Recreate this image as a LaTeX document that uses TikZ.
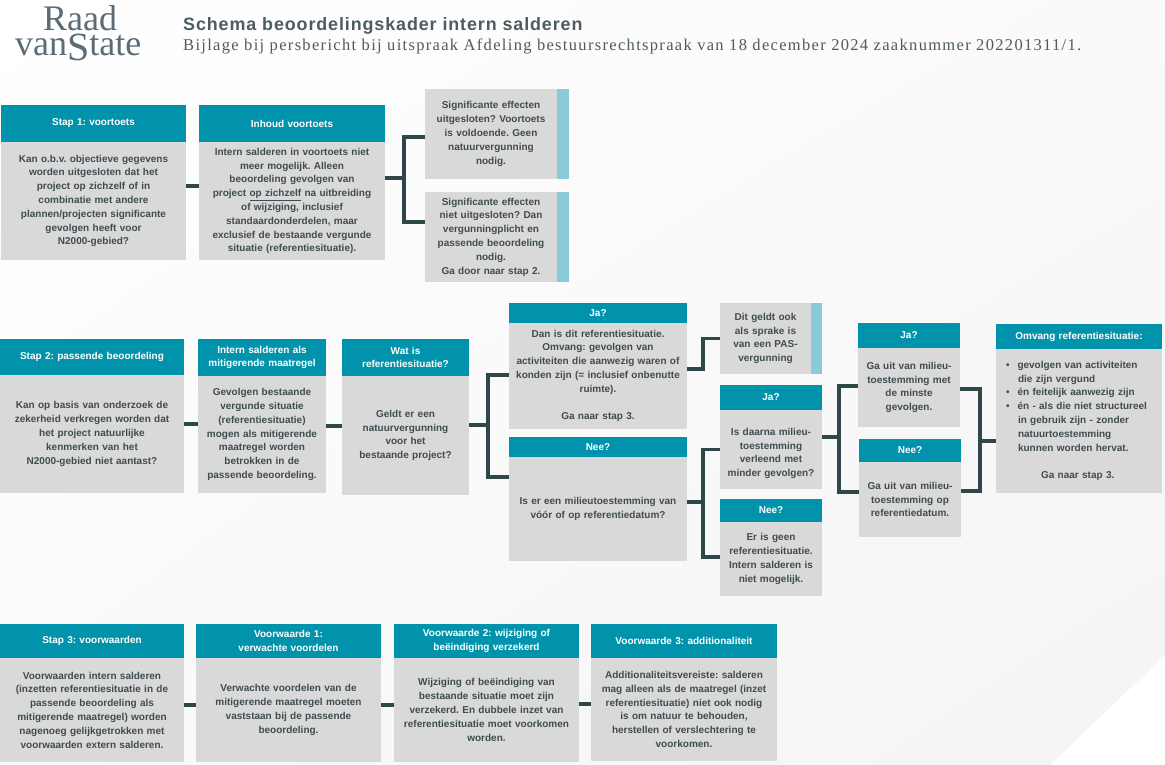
\documentclass[tikz,border=0pt]{standalone}
\usepackage{fontspec}
\setmainfont{Liberation Sans}
\newfontfamily\serifletter[LetterSpace=8]{Liberation Serif}
\newfontfamily\logoletter{Liberation Serif}
\newfontfamily\titelletter[LetterSpace=5]{Liberation Sans}
\usetikzlibrary{positioning, calc, shadings}
\definecolor{petrol}{HTML}{0093AB}
\definecolor{vakgrijs}{HTML}{D9D9D9}
\definecolor{lichtblauw}{HTML}{8ACADA}
\definecolor{lijngroen}{HTML}{2F4748}
\definecolor{tekstgrijs}{HTML}{3F4C50}
\definecolor{logogrijs}{HTML}{5C6C76}
\definecolor{titelgrijs}{HTML}{4D5B62}
\definecolor{hoekgrijs}{HTML}{F4F4F4}
\definecolor{middengrijs}{HTML}{FAFAFA}
\tikzset{
  every picture/.style={x=1pt, y=-1pt},
  maat/.style 2 args={text width=#1, minimum height=#2},
  kop/.style={fill=petrol, text=white, anchor=north west, inner sep=0pt, outer sep=0pt, align=center,
              font=\fontsize{10}{13.8}\selectfont\bfseries},
  vak/.style={fill=vakgrijs, text=tekstgrijs, anchor=north west, inner sep=0pt, outer sep=0pt, align=center,
              font=\fontsize{10}{13.8}\selectfont\bfseries},
  strook/.style={fill=lichtblauw, anchor=north west, inner sep=0pt, outer sep=0pt, minimum width=12pt},
  lijn/.style={draw=lijngroen, line width=3.2pt},
}
\frenchspacing
\begin{document}
\begin{tikzpicture}
  \useasboundingbox (0,0) rectangle (1165,765);
  \shade[upper left=white, upper right=middengrijs, lower left=middengrijs, lower right=hoekgrijs]
    (0,0) -- (1165,0) -- (1165,655) -- (1050,765) -- (0,765) -- cycle;

  \node[anchor=north west, inner sep=0pt, align=left, text=logogrijs, font=\fontsize{36}{25}\logoletter] (logo) at (15,5) {\hspace{28pt}Raad\\van\smash{\fontsize{40}{25}\selectfont\raisebox{-5pt}{S}}tate};
  \node[anchor=base west, inner sep=0pt, text=titelgrijs, font=\fontsize{17.9}{18}\titelletter\bfseries] (titel) at (183,31) {Schema beoordelingskader intern salderen};
  \node[anchor=base west, inner sep=0pt, text=titelgrijs, font=\fontsize{16.5}{18}\serifletter] (ondertitel) at (183,51) {Bijlage bij persbericht bij uitspraak Afdeling bestuursrechtspraak van 18 december 2024 zaaknummer 202201311/1.};

  \node[kop, maat={185pt}{37pt}] (stapeenkop) at (1,105) {Stap 1: voortoets};
  \node[vak, maat={185pt}{118pt}] (stapeen) at (1,142) {Kan o.b.v. objectieve gegevens\\worden uitgesloten dat het\\project op zichzelf of in\\combinatie met andere\\plannen/projecten significante\\gevolgen heeft voor\\N2000-gebied?};
  \node[kop, maat={186pt}{37pt}] (inhoudkop) at (199,105) {Inhoud voortoets};
  \node[vak, maat={186pt}{118pt}] (inhoud) at (199,142) {Intern salderen in voortoets niet\\meer mogelijk. Alleen\\beoordeling gevolgen van\\project \underline{op zichzelf} na uitbreiding\\of wijziging, inclusief\\standaardonderdelen, maar\\exclusief de bestaande vergunde\\situatie (referentiesituatie).};
  \node[vak, maat={132pt}{90pt}] (effectuit) at (425,89) {Significante effecten\\uitgesloten? Voortoets\\is voldoende. Geen\\natuurvergunning\\nodig.};
  \node[strook, minimum height=90pt] (effectuitstrook) at (557,89) {};
  \node[vak, maat={132pt}{90pt}] (effectniet) at (425,192) {Significante effecten\\niet uitgesloten? Dan\\vergunningplicht en\\passende beoordeling\\nodig.\\Ga door naar stap 2.};
  \node[strook, minimum height=90pt] (effectnietstrook) at (557,192) {};
  \coordinate (splitvoortoets) at (404,178);
  \draw[lijn] ([yshift=15pt]stapeen.east) -- ([yshift=15pt]inhoud.west);
  \draw[lijn] ([yshift=23pt]inhoud.east) -- (splitvoortoets);
  \draw[lijn] ([yshift=-3pt]effectuit.west) -| (splitvoortoets) |- ([yshift=15pt]effectniet.west);

  \node[kop, maat={184pt}{36pt}] (steptweekop) at (0,339) {Stap 2: passende beoordeling};
  \node[vak, maat={184pt}{118pt}] (steptwee) at (0,375) {Kan op basis van onderzoek de\\zekerheid verkregen worden dat\\het project natuurlijke\\kenmerken van het\\N2000-gebied niet aantast?};
  \node[kop, maat={128pt}{37pt}] (mitigerendkop) at (198,339) {Intern salderen als\\mitigerende maatregel};
  \node[vak, maat={128pt}{117pt}] (mitigerend) at (198,376) {Gevolgen bestaande\\vergunde situatie\\(referentiesituatie)\\mogen als mitigerende\\maatregel worden\\betrokken in de\\passende beoordeling.};
  \node[kop, maat={127pt}{37pt}] (watiskop) at (342,339) {Wat is\\referentiesituatie?};
  \node[vak, maat={127pt}{119pt}] (watis) at (342,376) {Geldt er een\\natuurvergunning\\voor het\\bestaande project?};
  \node[kop, maat={178pt}{20pt}] (jaeenkop) at (509,303) {Ja?};
  \node[vak, maat={178pt}{106pt}] (jaeen) at (509,323) {Dan is dit referentiesituatie.\\Omvang: gevolgen van\\activiteiten die aanwezig waren of\\konden zijn (= inclusief onbenutte\\ruimte).\\[13.8pt]Ga naar stap 3.\\[3pt]};
  \node[kop, maat={178pt}{20pt}] (neeeenkop) at (509,437) {Nee?};
  \node[vak, maat={178pt}{104pt}] (neeeen) at (509,457) {Is er een milieutoestemming van\\vóór of op referentiedatum?};
  \node[vak, maat={91pt}{71pt}] (pas) at (720,303) {Dit geldt ook\\als sprake is\\van een PAS-\\vergunning};
  \node[strook, minimum width=11pt, minimum height=71pt] (passtrook) at (811,303) {};
  \node[kop, maat={102pt}{25pt}] (jatweekop) at (720,385) {Ja?};
  \node[vak, maat={102pt}{79pt}] (jatwee) at (720,410) {\rule{0pt}{15pt}Is daarna milieu-\\toestemming\\verleend met\\minder gevolgen?};
  \node[kop, maat={102pt}{23pt}] (neetweekop) at (720,499) {Nee?};
  \node[vak, maat={102pt}{74pt}] (neetwee) at (720,522) {Er is geen\\referentiesituatie.\\Intern salderen is\\niet mogelijk.};
  \node[kop, maat={102pt}{25pt}] (jadriekop) at (858,323) {Ja?};
  \node[vak, maat={102pt}{79pt}] (jadrie) at (858,348) {Ga uit van milieu-\\toestemming met\\de minste\\gevolgen.};
  \node[kop, maat={102pt}{23pt}] (needriekop) at (859,439) {Nee?};
  \node[vak, maat={102pt}{75pt}] (needrie) at (859,462) {Ga uit van milieu-\\toestemming op\\referentiedatum.\\[13pt]};
  \node[kop, maat={166pt}{25pt}] (omvangkop) at (996,324) {Omvang referentiesituatie:};
  \node[vak, maat={166pt}{144pt}, align=left] (omvang) at (996,349) {\hspace{10pt}\textbullet\hspace{8pt}gevolgen van activiteiten\\\hspace{22pt}die zijn vergund\\\hspace{10pt}\textbullet\hspace{8pt}én feitelijk aanwezig zijn\\\hspace{10pt}\textbullet\hspace{8pt}én - als die niet structureel\\\hspace{22pt}in gebruik zijn - zonder\\\hspace{22pt}natuurtoestemming\\\hspace{22pt}kunnen worden hervat.\\[13.8pt]\hspace{45pt}Ga naar stap 3.};
  \coordinate (splitreferentie) at (488,425);
  \coordinate (splitpas) at (703,354);
  \coordinate (splitdatum) at (703,502);
  \coordinate (splitgevolgen) at (839,437);
  \coordinate (splitomvang) at (980,441);
  \draw[lijn] ([yshift=10pt]steptwee.east) -- ([yshift=10.5pt]mitigerend.west);
  \draw[lijn] ([yshift=8.5pt]mitigerend.east) -- ([yshift=9.5pt]watis.west);
  \draw[lijn] ([yshift=10.5pt]watis.east) -- (splitreferentie);
  \draw[lijn] ([yshift=1pt]jaeen.west) -| (splitreferentie) |- ([yshift=32pt]neeeen.west);
  \draw[lijn] ([yshift=7pt]jaeen.east) -| (splitpas) |- (pas.west);
  \draw[lijn] ([yshift=7pt]neeeen.east) -- (splitdatum);
  \draw[lijn] (jatwee.west) -| (splitdatum) |- ([yshift=2pt]neetwee.west);
  \draw[lijn] ([yshift=12.5pt]jatwee.east) -- (splitgevolgen);
  \draw[lijn] ([yshift=1.5pt]jadrie.west) -| (splitgevolgen) |- ([yshift=7.5pt]needrie.west);
  \draw[lijn] ([yshift=-1.5pt]jadrie.east) -| (splitomvang) |- ([yshift=8.5pt]needrie.east);
  \draw[lijn] (splitomvang) -- ([yshift=-20pt]omvang.west);

  \node[kop, maat={184pt}{34pt}] (stapdriekop) at (0,624) {Stap 3: voorwaarden};
  \node[vak, maat={184pt}{104pt}] (stapdrie) at (0,658) {Voorwaarden intern salderen\\(inzetten referentiesituatie in de\\passende beoordeling als\\mitigerende maatregel) worden\\nagenoeg gelijkgetrokken met\\voorwaarden extern salderen.};
  \node[kop, maat={185pt}{34pt}] (eenkop) at (196,624) {Voorwaarde 1:\\verwachte voordelen};
  \node[vak, maat={185pt}{104pt}] (voorwaardeeen) at (196,658) {Verwachte voordelen van de\\mitigerende maatregel moeten\\vaststaan bij de passende\\beoordeling.};
  \node[kop, maat={185pt}{34pt}] (tweekop) at (394,624) {Voorwaarde 2: wijziging of\\beëindiging verzekerd};
  \node[vak, maat={185pt}{104pt}] (voorwaardetwee) at (394,658) {Wijziging of beëindiging van\\bestaande situatie moet zijn\\verzekerd. En dubbele inzet van\\referentiesituatie moet voorkomen\\worden.};
  \node[kop, maat={186pt}{34pt}] (driekop) at (591,624) {Voorwaarde 3: additionaliteit};
  \node[vak, maat={186pt}{103pt}] (voorwaardedrie) at (591,658) {Additionaliteitsvereiste: salderen\\mag alleen als de maatregel (inzet\\referentiesituatie) niet ook nodig\\is om natuur te behouden,\\herstellen of verslechtering te\\voorkomen.};
  \draw[lijn] ([yshift=5pt]stapdrie.east) -- ([yshift=5pt]voorwaardeeen.west);
  \draw[lijn] ([yshift=5pt]voorwaardeeen.east) -- ([yshift=5pt]voorwaardetwee.west);
  \draw[lijn] ([yshift=6pt]voorwaardetwee.east) -- ([yshift=5.5pt]voorwaardedrie.west);
\end{tikzpicture}
\end{document}
